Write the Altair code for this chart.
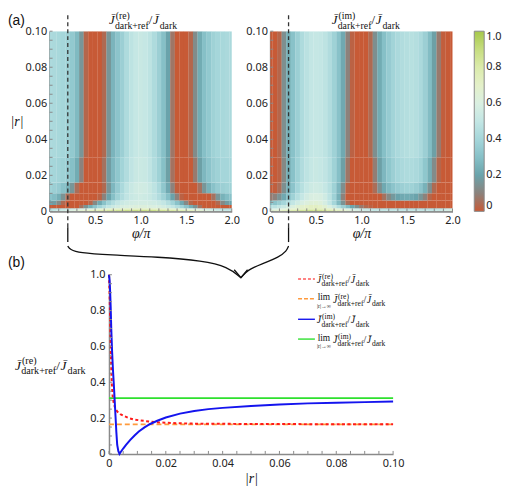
import altair as alt
import pandas as pd

# ---------------- values ----------------
phi_cols = [round(0.05 * i, 2) for i in range(41)]          # phi/pi column centres
r_edges = [0, 0.001, 0.0018, 0.0035, 0.006, 0.01, 0.016, 0.03, 0.1]
cut_phi = 0.2

re_r0 = [0.50,0.51,0.53,0.55,0.58,0.61,0.64,0.67,0.70,0.73,0.76,0.78,0.80,0.82,0.84,0.85,0.86,0.87,0.88,0.88,0.88,0.88,0.88,0.87,0.86,0.85,0.84,0.82,0.80,0.78,0.76,0.73,0.70,0.67,0.64,0.61,0.58,0.55,0.53,0.51,0.50]
re_r1 = [0.35,0.36,0.38,0.40,0.43,0.46,0.50,0.53,0.57,0.60,0.63,0.66,0.68,0.70,0.72,0.73,0.74,0.75,0.75,0.75,0.75,0.75,0.75,0.75,0.74,0.73,0.72,0.70,0.68,0.66,0.63,0.60,0.57,0.53,0.50,0.46,0.43,0.40,0.38,0.36,0.35]
re_r2 = [0,0,0,0,0,0,0,0.06,0.15,0.24,0.32,0.39,0.45,0.50,0.54,0.57,0.59,0.60,0.61,0.62,0.62,0.62,0.61,0.60,0.59,0.57,0.54,0.50,0.45,0.39,0.32,0.24,0.15,0.06,0,0,0,0,0,0,0]
re_r3 = [0.20,0.18,0.12,0.04,0,0,0,0,0,0.03,0.12,0.22,0.31,0.39,0.45,0.50,0.53,0.55,0.56,0.57,0.57,0.57,0.56,0.55,0.53,0.50,0.45,0.39,0.31,0.22,0.12,0.03,0,0,0,0,0,0.04,0.12,0.18,0.20]
re_r4 = [0.31,0.29,0.24,0.15,0.05,0,0,0,0,0,0,0.02,0.10,0.20,0.30,0.38,0.44,0.49,0.52,0.54,0.55,0.54,0.52,0.49,0.44,0.38,0.30,0.20,0.10,0.02,0,0,0,0,0,0,0.06,0.16,0.25,0.29,0.31]
re_r5 = [0.38,0.37,0.35,0.31,0.25,0.16,0.05,0,0,0,0,0,0.04,0.16,0.27,0.35,0.42,0.48,0.52,0.55,0.56,0.55,0.52,0.48,0.42,0.33,0.22,0.10,0.01,0,0,0,0,0.06,0.16,0.25,0.31,0.35,0.37,0.38,0.38]
re_r6 = [0.40,0.40,0.39,0.38,0.35,0.30,0.23,0.10,0,0,0,0,0.06,0.18,0.27,0.33,0.39,0.44,0.49,0.52,0.53,0.52,0.49,0.44,0.38,0.30,0.19,0.06,0,0,0,0,0.08,0.19,0.27,0.32,0.36,0.38,0.40,0.40,0.40]
re_r7 = [0.42,0.42,0.41,0.40,0.38,0.34,0.28,0.16,0.03,0,0,0,0.04,0.16,0.26,0.32,0.37,0.43,0.48,0.51,0.52,0.51,0.48,0.43,0.37,0.30,0.20,0.07,0,0,0,0.03,0.13,0.23,0.30,0.34,0.38,0.40,0.41,0.42,0.42]

im_r0 = [0.65,0.67,0.70,0.73,0.76,0.79,0.82,0.84,0.86,0.87,0.87,0.86,0.84,0.81,0.78,0.74,0.70,0.66,0.62,0.59,0.56,0.54,0.52,0.50,0.50,0.50,0.50,0.50,0.50,0.50,0.50,0.50,0.50,0.50,0.50,0.50,0.50,0.52,0.55,0.58,0.62]
im_r1 = [0.55,0.57,0.60,0.63,0.67,0.70,0.73,0.76,0.78,0.79,0.80,0.79,0.77,0.74,0.70,0.66,0.62,0.57,0.53,0.49,0.46,0.43,0.41,0.39,0.38,0.37,0.37,0.37,0.37,0.37,0.37,0.37,0.37,0.37,0.37,0.37,0.38,0.40,0.43,0.47,0.50]
im_r2 = [0.45,0.47,0.50,0.53,0.57,0.61,0.65,0.68,0.70,0.72,0.72,0.70,0.66,0.60,0.53,0.45,0.37,0.29,0.21,0.14,0.08,0.04,0.02,0,0,0,0,0,0,0,0,0,0,0,0,0,0,0,0,0,0]
im_r3 = [0.30,0.32,0.36,0.40,0.45,0.50,0.55,0.59,0.62,0.64,0.65,0.63,0.58,0.50,0.40,0.28,0.15,0.05,0,0,0,0,0,0,0,0,0,0,0,0,0,0,0,0,0,0,0,0,0,0,0]
im_r4 = [0.08,0.10,0.15,0.22,0.30,0.38,0.45,0.51,0.56,0.59,0.60,0.59,0.55,0.48,0.38,0.25,0.10,0,0,0,0,0,0,0,0,0.06,0.12,0.17,0.20,0.22,0.23,0.22,0.20,0.16,0.10,0.03,0,0,0,0,0]
im_r5 = [0,0.01,0.05,0.14,0.24,0.32,0.40,0.46,0.51,0.54,0.55,0.54,0.51,0.46,0.38,0.27,0.14,0.02,0,0,0,0,0,0.05,0.14,0.22,0.28,0.32,0.35,0.37,0.38,0.38,0.36,0.32,0.25,0.14,0.04,0,0,0,0]
im_r6 = [0,0,0.02,0.12,0.23,0.31,0.38,0.44,0.48,0.51,0.52,0.51,0.49,0.45,0.38,0.30,0.19,0.07,0,0,0,0,0,0.09,0.19,0.27,0.33,0.37,0.40,0.42,0.43,0.43,0.42,0.39,0.33,0.24,0.13,0.03,0,0,0]
im_r7 = [0,0,0.03,0.14,0.24,0.31,0.37,0.43,0.47,0.50,0.51,0.50,0.48,0.44,0.38,0.31,0.22,0.10,0.02,0,0,0,0.04,0.14,0.23,0.30,0.35,0.39,0.42,0.44,0.45,0.46,0.45,0.42,0.37,0.29,0.19,0.08,0.01,0,0]

re_rows = [re_r0, re_r1, re_r2, re_r3, re_r4, re_r5, re_r6, re_r7]
im_rows = [im_r0, im_r1, im_r2, im_r3, im_r4, im_r5, im_r6, im_r7]
for row in re_rows + im_rows:
    assert len(row) == 41, len(row)

# colour map, evenly spaced from 0 to 1
cmap_colors = ["#c75a36", "#8c827c", "#6aa3ab", "#86c0c7", "#a5d6da", "#c3e6e4",
               "#daefe1", "#e4f0c9", "#dbebab", "#c6dd7f", "#a6c84a"]

# cut at phi = 0.2 pi  (panel b)
re_cut_r = [0, 0.0002, 0.0004, 0.0006, 0.0008, 0.001, 0.0013, 0.0017, 0.0023, 0.003, 0.004, 0.0052,
            0.007, 0.0085, 0.0105, 0.013, 0.016, 0.0197, 0.025, 0.03, 0.04, 0.05, 0.06, 0.07, 0.08, 0.09, 0.1]
re_cut_v = [1.0, 0.9, 0.75, 0.6, 0.48, 0.39, 0.32, 0.28, 0.25, 0.235, 0.222, 0.212,
            0.2, 0.193, 0.188, 0.183, 0.178, 0.174, 0.171, 0.169, 0.168, 0.167, 0.167, 0.166, 0.166, 0.166, 0.166]
im_cut_r = [0, 0.0002, 0.0004, 0.0006, 0.0008, 0.0011, 0.0014, 0.0017, 0.002, 0.0023, 0.0026, 0.0029,
            0.0033, 0.0037, 0.0042, 0.005, 0.006, 0.0075, 0.009, 0.0105, 0.0125, 0.0145, 0.017, 0.02,
            0.025, 0.03, 0.035, 0.04, 0.05, 0.06, 0.07, 0.08, 0.09, 0.1]
im_cut_v = [1.0, 0.97, 0.91, 0.82, 0.70, 0.57, 0.47, 0.39, 0.30, 0.21, 0.12, 0.05,
            0.015, 0.0, 0.012, 0.03, 0.05, 0.078, 0.103, 0.125, 0.148, 0.167, 0.185, 0.203,
            0.225, 0.24, 0.25, 0.257, 0.268, 0.276, 0.282, 0.286, 0.289, 0.292]
re_limit = 0.165
im_limit = 0.311

heat_x_ticks = [0, 0.5, 1.0, 1.5, 2.0]
heat_y_ticks = [0, 0.02, 0.04, 0.06, 0.08, 0.1]
cut_x_ticks = [0, 0.02, 0.04, 0.06, 0.08, 0.1]
cut_y_ticks = [0, 0.2, 0.4, 0.6, 0.8, 1.0]
cbar_ticks = [0, 0.2, 0.4, 0.6, 0.8, 1.0]

# ---------------- layout / style ----------------
SANS = "Noto Sans"
SERIF = "Liberation Serif"
GRAY = "#8a8a8a"
HW, HH = 184, 182          # heat-map plot size
HSPACE = 39
BW, BH = 347, 181          # panel (b) view width / height
BX0 = 60                   # panel (b) plot starts here inside its view
LEAD = 31                  # arrow lead below the heat maps
ONE = pd.DataFrame({"o": [0]})

SERIF_W = {'a': .444, 'd': .5, 'r': .333, 'k': .5, '+': .564, 'e': .444, 'f': .333, '(': .333,
           ')': .333, 'i': .278, 'm': .778, '/': .278, 'l': .278, '|': .2, '→': 1.0, '∞': .713, 'J': .444}


def tw(s, fs):
    return sum(SERIF_W.get(c, .5) for c in s) * fs


def ratio_pieces(part, x, y, fs, lim=False):
    sub = fs * 0.76
    P = []
    if lim:
        wl = tw("lim", fs * 0.95)
        wu = tw("|r|→∞", fs * 0.58)
        cx = x + max(wl, wu) / 2
        P.append(("lim", cx, y - fs * 0.25, fs * 0.95, "normal", "center"))
        P.append(("|r|→∞", cx, y + fs * 0.55, fs * 0.58, "normal", "center"))
        x += max(wl, wu) + fs * 0.2
    P.append(("J\u0304", x, y, fs, "italic", "left"))
    xj = x + tw("J", fs) + fs * 0.08
    P.append((f"({part})", xj, y - fs * 0.4, sub, "normal", "left"))
    P.append(("dark+ref", xj - fs * 0.06, y + fs * 0.33, sub, "normal", "left"))
    x2 = xj - fs * 0.06 + max(tw(f"({part})", sub) + fs * 0.06, tw("dark+ref", sub))
    P.append(("/", x2, y, fs, "normal", "left"))
    x3 = x2 + tw("/", fs) + fs * 0.05
    P.append(("J\u0304", x3, y, fs, "italic", "left"))
    P.append(("dark", x3 + tw("J", fs) + fs * 0.08, y + fs * 0.33, sub, "normal", "left"))
    return P


def text_layers(pieces, font=SERIF, color="#111"):
    out = []
    for (t, x, y, fs, style, align) in pieces:
        out.append(alt.Chart(ONE).mark_text(text=t, font=font, fontSize=fs, fontStyle=style,
                                            align=align, baseline="alphabetic", color=color)
                   .encode(x=alt.value(x), y=alt.value(y)))
    return out


cscale = alt.Scale(domain=[0, 1], range=cmap_colors, interpolate="rgb", clamp=True)


def heat_df(rows):
    recs = []
    for i, row in enumerate(rows):
        for p, v in zip(phi_cols, row):
            recs.append(dict(p_lo=p - 0.026, p_hi=p + 0.026, r_lo=r_edges[i], r_hi=r_edges[i + 1], val=float(v)))
    return pd.DataFrame(recs)


def heat(rows, part, first):
    xs = alt.Scale(domain=[0, 2], nice=False, zero=False)
    ys = alt.Scale(domain=[0, 0.1], nice=False, zero=False)
    xaxis = alt.Axis(values=heat_x_ticks, labelExpr="datum.value == 0 ? '0' : format(datum.value, '.1f')",
                     title="φ/π", titleFont=SERIF, titleFontStyle="italic", titleFontWeight="normal",
                     titleFontSize=14, titlePadding=1, titleColor="#111", grid=False, ticks=False,
                     domainColor=GRAY, domainWidth=2, labelFont=SANS, labelFontSize=11,
                     labelColor="#222", labelPadding=3, labelFlush=False)
    yaxis_kw = dict(values=heat_y_ticks, labelExpr="datum.value == 0 ? '0' : format(datum.value, '.2f')",
                    grid=False, ticks=False, domainColor=GRAY, domainWidth=2, labelFont=SANS,
                    labelFontSize=11, labelColor="#222", labelPadding=3, labelFlush=False)
    if first:
        yaxis = alt.Axis(title="|r|", titleAngle=0, titleX=-40, titleY=HH / 2, titleAlign="left",
                         titleBaseline="middle", titleFont=SERIF, titleFontStyle="italic",
                         titleFontWeight="normal", titleFontSize=14, titleColor="#111", **yaxis_kw)
        legend = None
    else:
        yaxis = alt.Axis(title=None, **yaxis_kw)
        legend = alt.Legend(type="gradient", orient="none", legendX=HW + 22, legendY=0, direction="vertical",
                            title=None, gradientLength=HH, gradientThickness=10, values=cbar_ticks,
                            labelExpr="datum.value == 0 ? '0' : format(datum.value, '.1f')",
                            labelFont=SANS, labelFontSize=11, labelColor="#222", labelOffset=2,
                            labelOverlap=False, gradientStrokeColor=GRAY, gradientStrokeWidth=1)
    rect = alt.Chart(heat_df(rows)).mark_rect(clip=True).encode(
        x=alt.X("p_lo:Q", scale=xs, axis=xaxis), x2="p_hi:Q",
        y=alt.Y("r_lo:Q", scale=ys, axis=yaxis), y2="r_hi:Q",
        color=alt.Color("val:Q", scale=cscale, legend=legend),
    )
    xt = alt.Chart(pd.DataFrame({"p_lo": [round(0.1 * i, 2) for i in range(21)]})).mark_rule(
        color=GRAY, strokeWidth=1).encode(x=alt.X("p_lo:Q", scale=xs, axis=xaxis), y=alt.value(HH), y2=alt.value(HH - 3))
    yt = alt.Chart(pd.DataFrame({"r_lo": [round(0.005 * i, 3) for i in range(21)]})).mark_rule(
        color=GRAY, strokeWidth=1).encode(y=alt.Y("r_lo:Q", scale=ys, axis=yaxis), x=alt.value(0), x2=alt.value(3))
    cut = pd.DataFrame({"p_lo": [cut_phi]})
    dash = alt.Chart(cut).mark_rule(color="#333", strokeWidth=1.3, strokeDash=[4, 3]).encode(
        x=alt.X("p_lo:Q", scale=xs, axis=xaxis), y=alt.value(-16), y2=alt.value(HH + 16))
    lead = alt.Chart(cut).mark_rule(color="#111", strokeWidth=1.3).encode(
        x=alt.X("p_lo:Q", scale=xs, axis=xaxis), y=alt.value(HH + 16), y2=alt.value(HH + LEAD))
    layers = [rect, xt, yt, dash, lead]
    layers += text_layers(ratio_pieces(part, 60 if first else 62, -7, 13))
    if first:
        layers += text_layers([("(a)", -42, -6, 14, "normal", "left")], font="Liberation Sans")
    return alt.layer(*layers).properties(width=HW, height=HH)


top = alt.hconcat(heat(re_rows, "re", True), heat(im_rows, "im", False),
                  spacing=HSPACE, bounds="flush").resolve_scale(color="independent")

# ---------------- panel (b) ----------------
bxs = alt.Scale(domain=[0, 0.1], range=[BX0, BW], nice=False, zero=False)
bys = alt.Scale(domain=[0, 1], nice=False, zero=False)
bxaxis = alt.Axis(values=cut_x_ticks, labelExpr="datum.value == 0 ? '0' : format(datum.value, '.2f')",
                  title="|r|", titleFont=SERIF, titleFontStyle="italic", titleFontWeight="normal",
                  titleFontSize=14, titlePadding=3, titleColor="#111", grid=False, ticks=False,
                  domainColor=GRAY, domainWidth=1.5, labelFont=SANS, labelFontSize=11, labelColor="#222",
                  labelPadding=4, labelFlush=False)
byaxis = alt.Axis(values=cut_y_ticks, labelExpr="datum.value == 0 ? '0' : format(datum.value, '.1f')",
                  title=None, offset=-BX0, grid=False, ticks=False, domainColor=GRAY, domainWidth=1.5,
                  labelFont=SANS, labelFontSize=11, labelColor="#222", labelPadding=4)


def bline(r, v, color, width, dash=None, interp=None):
    kw = dict(color=color, strokeWidth=width)
    if dash:
        kw["strokeDash"] = dash
    if interp:
        kw["interpolate"] = interp
    df = pd.DataFrame({"r": r, "v": v, "i": list(range(len(r)))})
    return alt.Chart(df).mark_line(**kw).encode(
        x=alt.X("r:Q", scale=bxs, axis=bxaxis), y=alt.Y("v:Q", scale=bys, axis=byaxis), order="i:Q")


def px2d(pts):
    return ([(px - BX0) / (BW - BX0) * 0.1 for px, py in pts], [1 - py / BH for px, py in pts])


arrow_left_px = [(18.4, -29), (20.5, -25.5), (30, -22), (60, -20), (110, -18), (155, -14), (180, -8), (193.3, 3)]
arrow_right_px = [(241.4, -29), (239.5, -24), (232, -18), (215, -11), (200, -5), (193.3, 3)]
arrow_head_px = [(186.5, -5), (193.3, 3), (200, -5)]

blayers = [
    bline([0, 0.1], [im_limit, im_limit], "#2ee02e", 1.8),
    bline([0, 0.1], [re_limit, re_limit], "#ff9a3c", 1.6, [5, 3]),
    bline(re_cut_r, re_cut_v, "#ff1a1a", 2, [3, 2.5]),
    bline(im_cut_r, im_cut_v, "#1414ee", 2),
    bline(*px2d(arrow_left_px), "#111", 1.3, None, "basis"),
    bline(*px2d(arrow_right_px), "#111", 1.3, None, "basis"),
    bline(*px2d(arrow_head_px), "#111", 1.3),
]
bxt = alt.Chart(pd.DataFrame({"r": [round(0.005 * i, 3) for i in range(21)]})).mark_rule(
    color=GRAY, strokeWidth=1).encode(x=alt.X("r:Q", scale=bxs, axis=bxaxis), y=alt.value(BH), y2=alt.value(BH - 3))
byt = alt.Chart(pd.DataFrame({"v": [round(0.05 * i, 2) for i in range(21)]})).mark_rule(
    color=GRAY, strokeWidth=1).encode(y=alt.Y("v:Q", scale=bys, axis=byaxis), x=alt.value(BX0), x2=alt.value(BX0 + 3))
blayers += [bxt, byt]

# legend of panel (b)
leg_rows = [("re", False, "#ff5a5a", [3, 2], 4.3),
            ("re", True, "#ff9a3c", [4, 2], 24.3),
            ("im", False, "#1414ee", None, 45),
            ("im", True, "#2ee02e", None, 65)]
for part, lim, col, dsh, ly in leg_rows:
    kw = dict(color=col, strokeWidth=1.4)
    if dsh:
        kw["strokeDash"] = dsh
    blayers.append(alt.Chart(ONE).mark_rule(**kw).encode(
        x=alt.value(251), x2=alt.value(268), y=alt.value(ly), y2=alt.value(ly)))
    blayers += text_layers(ratio_pieces(part, 270, ly + 4, 10, lim))

blayers += text_layers(ratio_pieces("re", -35, 96, 13.5))
blayers += text_layers([("(b)", -42, -8, 14, "normal", "left")], font="Liberation Sans")

bottom = alt.layer(*blayers).properties(width=BW, height=BH)

chart = alt.vconcat(top, bottom, spacing=0).properties(
    padding={"left": 0, "top": 0, "right": 0, "bottom": 0}
).configure_view(stroke=None)

chart.save("out.html", embed_options={"renderer": "svg", "actions": False})
